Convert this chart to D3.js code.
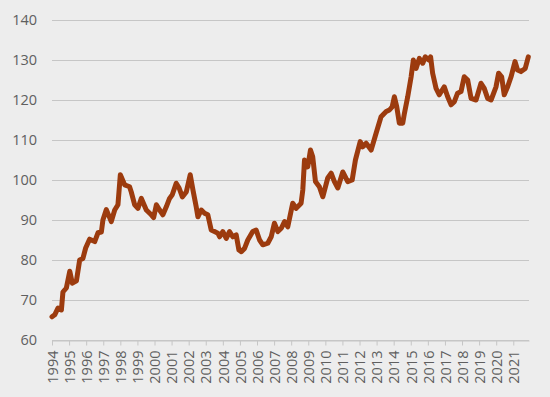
<!DOCTYPE html>
<html>
<head>
<meta charset="utf-8">
<script src="https://cdn.jsdelivr.net/npm/d3@7"></script>
<style>
  html, body { margin: 0; padding: 0; background: #ededed; }
  svg text { font-family: "Open Sans", sans-serif; fill: #5f5f5f; }
  .grid line { stroke: #c6c6c6; stroke-width: 1; }
  .x.axis path, .x.axis line { stroke: #c6c6c6; }
</style>
</head>
<body>
<div id="chart"></div>
<script>
// decimal year of each reading
var dates = [
  1994.00, 1994.16, 1994.35, 1994.55, 1994.64, 1994.84, 1995.04, 1995.19, 1995.43, 1995.62,
  1995.81, 1995.97, 1996.20, 1996.50, 1996.69, 1996.89, 1996.98, 1997.18, 1997.47, 1997.67,
  1997.86, 1998.00, 1998.25, 1998.43, 1998.54, 1998.64, 1998.84, 1999.03, 1999.23, 1999.52,
  1999.81, 1999.95, 2000.11, 2000.30, 2000.49, 2000.69, 2000.88, 2001.04, 2001.27, 2001.44,
  2001.63, 2001.86, 2002.09, 2002.25, 2002.44, 2002.54, 2002.74, 2002.93, 2003.12, 2003.32,
  2003.51, 2003.71, 2003.81, 2004.00, 2004.20, 2004.39, 2004.58, 2004.78, 2004.94, 2005.08,
  2005.27, 2005.46, 2005.75, 2005.95, 2006.15, 2006.34, 2006.63, 2006.83, 2007.02, 2007.22,
  2007.43, 2007.61, 2007.80, 2008.09, 2008.29, 2008.58, 2008.68, 2008.78, 2008.97, 2009.13,
  2009.26, 2009.42, 2009.65, 2009.85, 2010.14, 2010.34, 2010.53, 2010.73, 2011.02, 2011.31,
  2011.57, 2011.76, 2012.04, 2012.19, 2012.39, 2012.68, 2012.97, 2013.26, 2013.56, 2013.75,
  2013.91, 2014.04, 2014.18, 2014.33, 2014.53, 2014.63, 2014.82, 2015.02, 2015.15, 2015.31,
  2015.50, 2015.70, 2015.85, 2016.05, 2016.16, 2016.28, 2016.48, 2016.67, 2016.96, 2017.16,
  2017.36, 2017.55, 2017.74, 2017.94, 2018.13, 2018.33, 2018.53, 2018.82, 2019.11, 2019.30,
  2019.50, 2019.70, 2019.99, 2020.14, 2020.32, 2020.47, 2020.67, 2020.87, 2021.10, 2021.25,
  2021.45, 2021.70, 2021.88
];

var values = [
  65.8, 66.3, 68.0, 67.5, 72.0, 73.0, 77.2, 74.2, 74.8, 80.0,
  80.4, 83.0, 85.2, 84.6, 86.8, 87.0, 90.0, 92.6, 89.6, 92.5,
  93.8, 101.3, 98.8, 98.5, 98.3, 97.0, 93.8, 92.9, 95.4, 92.5,
  91.3, 90.6, 93.8, 92.5, 91.3, 93.3, 95.4, 96.3, 99.2, 98.0,
  95.8, 97.0, 101.3, 97.5, 93.3, 90.8, 92.5, 91.7, 91.3, 87.5,
  87.1, 86.7, 85.8, 87.1, 85.4, 87.1, 85.8, 86.3, 82.5, 82.1,
  82.9, 85.0, 87.1, 87.5, 85.0, 83.8, 84.2, 85.8, 89.2, 87.1,
  88.0, 89.6, 88.3, 94.2, 92.9, 94.2, 97.5, 105.0, 103.3, 107.5,
  105.8, 99.6, 98.3, 95.8, 100.5, 101.7, 99.6, 98.0, 102.0, 99.6,
  100.0, 105.0, 109.6, 108.3, 109.2, 107.5, 111.7, 115.8, 117.1, 117.5,
  118.3, 120.8, 118.3, 114.2, 114.2, 116.7, 120.8, 125.8, 130.0, 127.9,
  130.4, 129.2, 130.8, 130.0, 130.8, 126.7, 122.9, 121.3, 123.3, 120.8,
  118.8, 119.6, 121.7, 122.1, 125.8, 125.0, 120.4, 120.0, 124.2, 122.9,
  120.4, 120.0, 123.3, 126.7, 125.8, 121.3, 123.3, 125.8, 129.6, 127.5,
  127.1, 127.9, 130.8
];

var yTicks = [60, 70, 80, 90, 100, 110, 120, 130, 140];
var yearTicks = d3.range(1994, 2022);

var width = 550, height = 397;
var margins = { top: 20, right: 21, bottom: 57, left: 52 };
var chartWidth = width - margins.left - margins.right;
var chartHeight = height - margins.top - margins.bottom;

var svg = d3.select("#chart")
  .append("svg")
  .attr("width", width)
  .attr("height", height);

svg.append("rect")
  .attr("width", width)
  .attr("height", height)
  .attr("fill", "#ededed");

var chartElement = svg.append("g")
  .attr("transform", `translate(${margins.left},${margins.top})`);

var xScale = d3.scaleLinear()
  .domain([1994, 2021.92])
  .range([0, chartWidth]);

var yScale = d3.scaleLinear()
  .domain([60, 140])
  .range([chartHeight, 0]);

// gridlines
chartElement.append("g")
  .attr("class", "grid")
  .selectAll("line")
  .data(yTicks)
  .enter()
    .append("line")
    .attr("x1", 0)
    .attr("x2", chartWidth)
    .attr("y1", d => yScale(d) + 0.5)
    .attr("y2", d => yScale(d) + 0.5);

// y labels
chartElement.append("g")
  .attr("class", "y labels")
  .selectAll("text")
  .data(yTicks)
  .enter()
    .append("text")
    .attr("x", -15)
    .attr("y", d => yScale(d))
    .attr("dy", "0.36em")
    .attr("text-anchor", "end")
    .style("font-size", "14.5px")
    .text(d => d);

// x axis
var xAxis = d3.axisBottom(xScale)
  .tickValues(yearTicks)
  .tickSize(5)
  .tickSizeOuter(0)
  .tickFormat(d => d);

var xg = chartElement.append("g")
  .attr("class", "x axis")
  .attr("transform", `translate(0,${chartHeight + 0.5})`)
  .call(xAxis);

xg.selectAll("text")
  .attr("transform", "rotate(-90)")
  .attr("text-anchor", "end")
  .attr("x", -10)
  .attr("y", 0)
  .attr("dy", "0.36em")
  .style("font-size", "14.5px");

// series
var points = dates.map((d, i) => ({ date: d, value: values[i] }));

var line = d3.line()
  .x(d => xScale(d.date))
  .y(d => yScale(d.value));

chartElement.append("path")
  .datum(points)
  .attr("fill", "none")
  .attr("stroke", "#9c3b0e")
  .attr("stroke-width", 5)
  .attr("stroke-linejoin", "round")
  .attr("stroke-linecap", "round")
  .attr("d", line);
</script>
</body>
</html>
